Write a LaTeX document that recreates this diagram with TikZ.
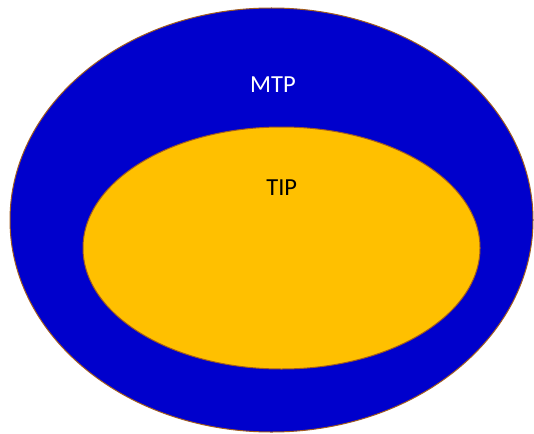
\documentclass[tikz,border=0pt]{standalone}
\usepackage{fontspec}
\setmainfont{Carlito}
\definecolor{outline}{rgb}{0.63,0.36,0.12}
\definecolor{mtpblue}{RGB}{0,0,204}
\definecolor{tipgold}{RGB}{255,192,0}
\begin{document}
\begin{tikzpicture}[x=1pt,y=-1pt,
  ring/.style={draw=outline, line width=1pt},
  lbl/.style={font=\fontsize{24.5}{28}\selectfont, inner sep=0pt, anchor=base}]
\useasboundingbox (0,0) rectangle (534,433);
\fill[white] (0,0) rectangle (534,433);
\draw[ring, fill=mtpblue] (271.5,220) ellipse [x radius=261.5, y radius=212];
\draw[ring, fill=tipgold] (281.5,248) ellipse [x radius=198.5, y radius=121];
\node[lbl, text=white] (mtp) at (273,92.7) {MTP};
\node[lbl, text=black] (tip) at (281.7,195.3) {TIP};
\end{tikzpicture}
\end{document}
